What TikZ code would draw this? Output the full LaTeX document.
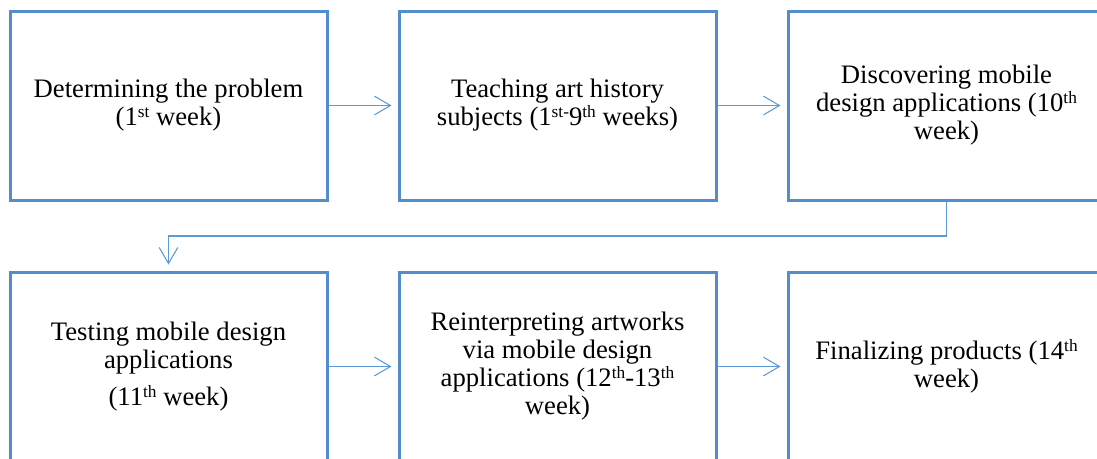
\documentclass[tikz,border=0pt]{standalone}
\usepackage{fontspec}
\setmainfont{Liberation Serif}
\usetikzlibrary{arrows.meta}
\definecolor{boxblue}{RGB}{84,141,204}
\definecolor{arrblue}{RGB}{91,155,213}
\newcommand\ordsup[1]{\raisebox{0.32em}{\fontsize{13}{13}\selectfont #1}}
\begin{document}
\begin{tikzpicture}[x=0.75pt,y=-0.75pt,
  stepbox/.style={draw=boxblue,line width=2.25pt,minimum width=237.75pt,minimum height=141.75pt,
    align=center,inner sep=0pt,font=\fontsize{20}{21}\selectfont},
  flow/.style={draw=arrblue,line width=0.8pt,
    -{Straight Barb[length=12pt,width=14pt,line width=0.8pt]},shorten >=4.5pt}]
\useasboundingbox (0,0) rectangle (1097,458);
\clip (0,0) rectangle (1097,458);
\node[stepbox] (b1) at (168.5,105.5) {Determining the problem\\(1\ordsup{st} week)};
\node[stepbox] (b2) at (557.5,105.5) {Teaching art history\\subjects (1\ordsup{st-}9\ordsup{th} weeks)};
\node[stepbox] (b3) at (946.5,105.5) {Discovering mobile\\design applications (10\ordsup{th}\\week)};
\node[stepbox] (b4) at (168.5,366.5) {Testing mobile design\\applications\\[7pt](11\ordsup{th} week)};
\node[stepbox] (b5) at (557.5,366.5) {Reinterpreting artworks\\via mobile design\\applications (12\ordsup{th}-13\ordsup{th}\\week)};
\node[stepbox] (b6) at (946.5,366.5) {Finalizing products (14\ordsup{th}\\week)};
\coordinate (elbow) at (947,236);
\draw[flow] (b1) -- (b2);
\draw[flow] (b2) -- (b3);
\draw[flow] (b3.south) -- (b3.south |- elbow) -| (b4.north);
\draw[flow] (b4) -- (b5);
\draw[flow] (b5) -- (b6);
\end{tikzpicture}
\end{document}
